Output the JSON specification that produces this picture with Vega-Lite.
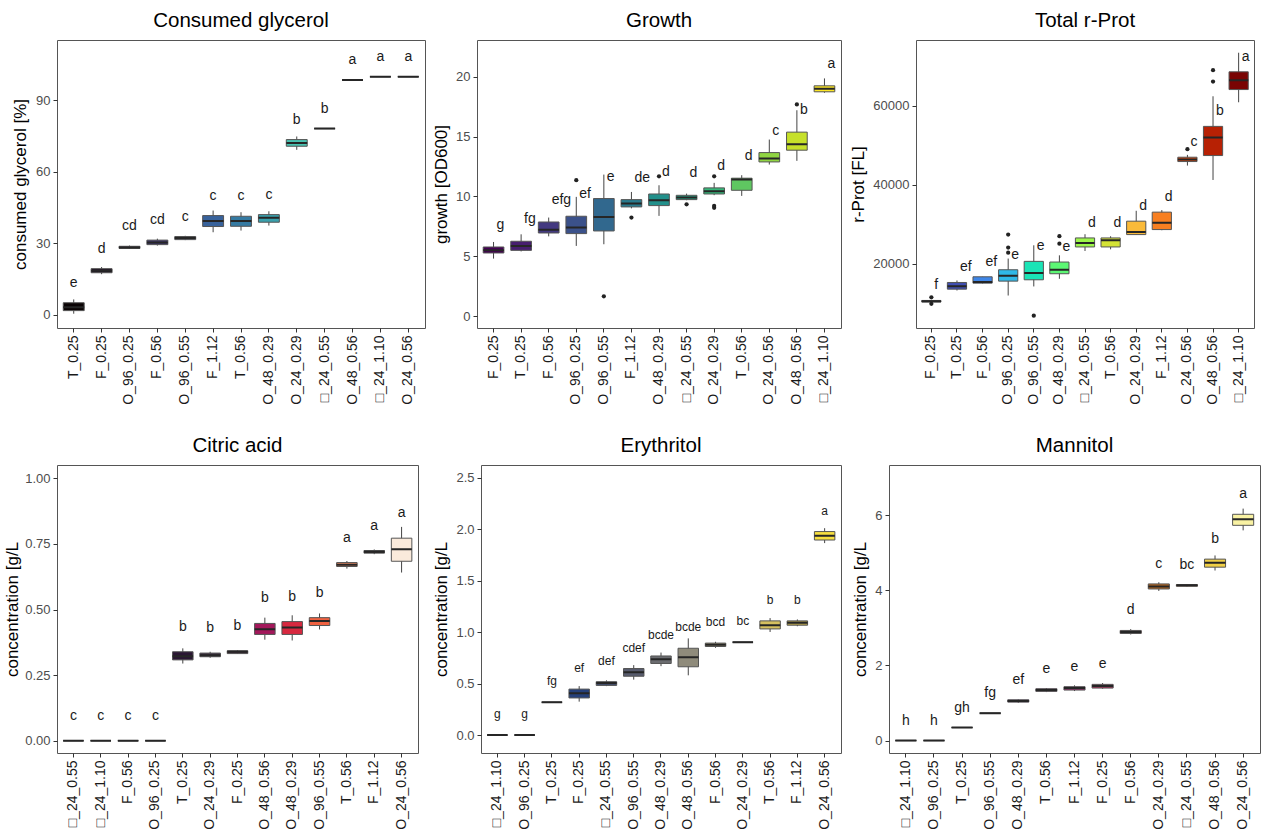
{
"$schema": "https://vega.github.io/schema/vega-lite/v6.json",
"padding": {"left": 3, "top": 10, "right": 0, "bottom": 0},
"config": {
  "font": "Liberation Sans",
  "view": {"stroke": "#555555", "strokeWidth": 1},
  "title": {"fontSize": 20.5, "fontWeight": "normal", "color": "#000000", "offset": 9, "anchor": "middle", "frame": "group", "font": "Liberation Sans"},
  "axis": {"grid": false, "domain": false, "tickColor": "#333333", "tickSize": 4, "labelFont": "Liberation Sans", "labelFontSize": 13, "labelColor": "#4d4d4d", "labelPadding": 3, "titleFont": "Liberation Sans", "titleFontSize": 17, "titleFontWeight": "normal", "titleColor": "#000000", "titlePadding": 5},
  "axisX": {"labelAngle": 270, "labelColor": "#1a1a1a", "title": null, "labelPadding": 3, "labelFontSize": 14},
  "text": {"font": "Liberation Sans"}
},
"datasets": {
  "gly": [
    {"g":"T_0.25","lo":0.4,"q1":1.7,"med":3.1,"q3":5.0,"hi":6.4,"let":"e"},
    {"g":"F_0.25","lo":17.0,"q1":17.6,"med":18.4,"q3":19.3,"hi":20.0,"let":"d"},
    {"g":"O_96_0.25","lo":27.6,"q1":27.8,"med":28.2,"q3":28.7,"hi":29.0,"let":"cd"},
    {"g":"F_0.56","lo":29.0,"q1":29.4,"med":30.3,"q3":31.3,"hi":31.9,"let":"cd"},
    {"g":"O_96_0.55","lo":31.3,"q1":31.5,"med":32.2,"q3":32.8,"hi":33.1,"let":"c"},
    {"g":"F_1.12","lo":34.6,"q1":37.0,"med":39.3,"q3":41.6,"hi":43.7,"let":"c"},
    {"g":"T_0.56","lo":35.3,"q1":37.1,"med":39.3,"q3":41.3,"hi":43.0,"let":"c"},
    {"g":"O_48_0.29","lo":37.4,"q1":38.8,"med":40.7,"q3":42.0,"hi":43.4,"let":"c"},
    {"g":"O_24_0.29","lo":69.2,"q1":70.7,"med":72.1,"q3":73.5,"hi":74.8,"let":"b"},
    {"g":"□_24_0.55","lo":78.1,"q1":78.1,"med":78.1,"q3":78.1,"hi":78.1,"let":"b"},
    {"g":"O_48_0.56","lo":98.5,"q1":98.5,"med":98.5,"q3":98.5,"hi":98.5,"let":"a"},
    {"g":"□_24_1.10","lo":99.9,"q1":99.9,"med":99.9,"q3":99.9,"hi":99.9,"let":"a"},
    {"g":"O_24_0.56","lo":99.9,"q1":99.9,"med":99.9,"q3":99.9,"hi":99.9,"let":"a"}
  ],
  "growth": [
    {"g":"F_0.25","lo":4.8,"q1":5.27,"med":5.49,"q3":5.77,"hi":6.19,"let":"g"},
    {"g":"T_0.25","lo":5.4,"q1":5.49,"med":5.86,"q3":6.25,"hi":6.83,"let":"fg"},
    {"g":"F_0.56","lo":6.66,"q1":6.94,"med":7.22,"q3":7.86,"hi":8.23,"let":"efg"},
    {"g":"O_96_0.25","lo":5.86,"q1":6.89,"med":7.39,"q3":8.34,"hi":9.96,"let":"ef"},
    {"g":"O_96_0.55","lo":6.0,"q1":7.11,"med":8.28,"q3":9.82,"hi":11.82,"let":"e"},
    {"g":"F_1.12","lo":9.0,"q1":9.12,"med":9.4,"q3":9.73,"hi":10.37,"let":"de"},
    {"g":"O_48_0.29","lo":8.37,"q1":9.23,"med":9.68,"q3":10.2,"hi":10.93,"let":"d"},
    {"g":"□_24_0.55","lo":9.68,"q1":9.73,"med":9.9,"q3":10.09,"hi":10.23,"let":"d"},
    {"g":"O_24_0.29","lo":10.1,"q1":10.2,"med":10.43,"q3":10.71,"hi":11.13,"let":"d"},
    {"g":"T_0.56","lo":10.04,"q1":10.51,"med":11.41,"q3":11.52,"hi":11.77,"let":"d"},
    {"g":"O_24_0.56","lo":12.66,"q1":12.88,"med":13.16,"q3":13.66,"hi":14.75,"let":"c"},
    {"g":"O_48_0.56","lo":12.97,"q1":13.86,"med":14.36,"q3":15.37,"hi":17.2,"let":"b"},
    {"g":"□_24_1.10","lo":18.66,"q1":18.74,"med":18.99,"q3":19.24,"hi":19.86,"let":"a"}
  ],
  "growth_out": [
    {"g":"O_96_0.25","v":11.35},
    {"g":"O_96_0.55","v":1.65},
    {"g":"F_1.12","v":8.23},
    {"g":"O_48_0.29","v":11.68},
    {"g":"□_24_0.55","v":9.34},
    {"g":"O_24_0.29","v":11.68},
    {"g":"O_24_0.29","v":9.2},
    {"g":"O_24_0.29","v":9.04},
    {"g":"O_48_0.56","v":17.68}
  ],
  "rprot": [
    {"g":"F_0.25","lo":10300,"q1":10300,"med":10500,"q3":10700,"hi":10700,"let":"f"},
    {"g":"T_0.25","lo":13220,"q1":13560,"med":14320,"q3":15250,"hi":15760,"let":"ef"},
    {"g":"F_0.56","lo":15000,"q1":15080,"med":15340,"q3":16690,"hi":16690,"let":"ef"},
    {"g":"O_96_0.25","lo":11950,"q1":15590,"med":16950,"q3":18470,"hi":21300,"let":"e"},
    {"g":"O_96_0.55","lo":14240,"q1":15930,"med":17630,"q3":20590,"hi":24660,"let":"e"},
    {"g":"O_48_0.29","lo":16180,"q1":17460,"med":18470,"q3":20420,"hi":22120,"let":"e"},
    {"g":"□_24_0.55","lo":23220,"q1":24240,"med":25250,"q3":26520,"hi":27460,"let":"d"},
    {"g":"T_0.56","lo":23640,"q1":24240,"med":25930,"q3":26520,"hi":26950,"let":"d"},
    {"g":"O_24_0.29","lo":27370,"q1":27370,"med":28050,"q3":30760,"hi":33390,"let":"d"},
    {"g":"F_1.12","lo":28470,"q1":28640,"med":30340,"q3":33050,"hi":33560,"let":"d"},
    {"g":"O_24_0.56","lo":44830,"q1":45850,"med":46360,"q3":46950,"hi":47540,"let":"c"},
    {"g":"O_48_0.56","lo":41190,"q1":47370,"med":51950,"q3":54750,"hi":62370,"let":"b"},
    {"g":"□_24_1.10","lo":60850,"q1":64070,"med":66440,"q3":68560,"hi":73390,"let":"a"}
  ],
  "rprot_out": [
    {"g":"F_0.25","v":11500},
    {"g":"F_0.25","v":9850},
    {"g":"O_96_0.25","v":27370},
    {"g":"O_96_0.25","v":24070},
    {"g":"O_96_0.25","v":22800},
    {"g":"O_96_0.55","v":6860},
    {"g":"O_48_0.29","v":26950},
    {"g":"O_48_0.29","v":25080},
    {"g":"O_24_0.56","v":48980},
    {"g":"O_48_0.56","v":68980},
    {"g":"O_48_0.56","v":66100}
  ],
  "citric": [
    {"g":"□_24_0.55","lo":0,"q1":0,"med":0,"q3":0,"hi":0,"let":"c"},
    {"g":"□_24_1.10","lo":0,"q1":0,"med":0,"q3":0,"hi":0,"let":"c"},
    {"g":"F_0.56","lo":0,"q1":0,"med":0,"q3":0,"hi":0,"let":"c"},
    {"g":"O_96_0.25","lo":0,"q1":0,"med":0,"q3":0,"hi":0,"let":"c"},
    {"g":"T_0.25","lo":0.294,"q1":0.308,"med":0.322,"q3":0.339,"hi":0.352,"let":"b"},
    {"g":"O_24_0.29","lo":0.316,"q1":0.32,"med":0.326,"q3":0.334,"hi":0.339,"let":"b"},
    {"g":"F_0.25","lo":0.331,"q1":0.332,"med":0.339,"q3":0.343,"hi":0.345,"let":"b"},
    {"g":"O_48_0.56","lo":0.385,"q1":0.405,"med":0.425,"q3":0.447,"hi":0.469,"let":"b"},
    {"g":"O_48_0.29","lo":0.382,"q1":0.405,"med":0.431,"q3":0.454,"hi":0.478,"let":"b"},
    {"g":"O_96_0.55","lo":0.424,"q1":0.439,"med":0.456,"q3":0.469,"hi":0.485,"let":"b"},
    {"g":"T_0.56","lo":0.656,"q1":0.664,"med":0.671,"q3":0.679,"hi":0.685,"let":"a"},
    {"g":"F_1.12","lo":0.711,"q1":0.715,"med":0.72,"q3":0.725,"hi":0.729,"let":"a"},
    {"g":"O_24_0.56","lo":0.641,"q1":0.684,"med":0.73,"q3":0.772,"hi":0.815,"let":"a"}
  ],
  "ery": [
    {"g":"□_24_1.10","lo":0,"q1":0,"med":0,"q3":0,"hi":0,"let":"g"},
    {"g":"O_96_0.25","lo":0,"q1":0,"med":0,"q3":0,"hi":0,"let":"g"},
    {"g":"T_0.25","lo":0.319,"q1":0.319,"med":0.319,"q3":0.319,"hi":0.319,"let":"fg"},
    {"g":"F_0.25","lo":0.325,"q1":0.361,"med":0.407,"q3":0.447,"hi":0.476,"let":"ef"},
    {"g":"□_24_0.55","lo":0.476,"q1":0.483,"med":0.506,"q3":0.519,"hi":0.532,"let":"def"},
    {"g":"O_96_0.55","lo":0.539,"q1":0.572,"med":0.611,"q3":0.647,"hi":0.68,"let":"cdef"},
    {"g":"O_48_0.29","lo":0.67,"q1":0.696,"med":0.736,"q3":0.769,"hi":0.802,"let":"bcde"},
    {"g":"O_48_0.56","lo":0.581,"q1":0.664,"med":0.756,"q3":0.844,"hi":0.94,"let":"bcde"},
    {"g":"F_0.56","lo":0.848,"q1":0.861,"med":0.877,"q3":0.894,"hi":0.907,"let":"bcd"},
    {"g":"O_24_0.29","lo":0.903,"q1":0.903,"med":0.903,"q3":0.903,"hi":0.903,"let":"bc"},
    {"g":"T_0.56","lo":1.002,"q1":1.032,"med":1.068,"q3":1.11,"hi":1.137,"let":"b"},
    {"g":"F_1.12","lo":1.058,"q1":1.068,"med":1.091,"q3":1.11,"hi":1.124,"let":"b"},
    {"g":"O_24_0.56","lo":1.866,"q1":1.896,"med":1.938,"q3":1.978,"hi":2.011,"let":"a"}
  ],
  "man": [
    {"g":"□_24_1.10","lo":0,"q1":0,"med":0,"q3":0,"hi":0,"let":"h"},
    {"g":"O_96_0.25","lo":0,"q1":0,"med":0,"q3":0,"hi":0,"let":"h"},
    {"g":"T_0.25","lo":0.348,"q1":0.348,"med":0.348,"q3":0.348,"hi":0.348,"let":"gh"},
    {"g":"O_96_0.55","lo":0.731,"q1":0.731,"med":0.731,"q3":0.731,"hi":0.731,"let":"fg"},
    {"g":"O_48_0.29","lo":1.007,"q1":1.025,"med":1.052,"q3":1.087,"hi":1.096,"let":"ef"},
    {"g":"T_0.56","lo":1.292,"q1":1.31,"med":1.346,"q3":1.381,"hi":1.399,"let":"e"},
    {"g":"F_1.12","lo":1.319,"q1":1.346,"med":1.399,"q3":1.435,"hi":1.471,"let":"e"},
    {"g":"F_0.25","lo":1.381,"q1":1.399,"med":1.453,"q3":1.497,"hi":1.533,"let":"e"},
    {"g":"F_0.56","lo":2.825,"q1":2.852,"med":2.888,"q3":2.932,"hi":2.968,"let":"d"},
    {"g":"O_24_0.29","lo":3.984,"q1":4.037,"med":4.1,"q3":4.171,"hi":4.216,"let":"c"},
    {"g":"□_24_0.55","lo":4.1,"q1":4.109,"med":4.135,"q3":4.153,"hi":4.162,"let":"bc"},
    {"g":"O_48_0.56","lo":4.528,"q1":4.617,"med":4.733,"q3":4.831,"hi":4.929,"let":"b"},
    {"g":"O_24_0.56","lo":5.597,"q1":5.731,"med":5.891,"q3":6.025,"hi":6.176,"let":"a"}
  ]
},
"columns": 1,
"align": "none",
"spacing": 30,
"resolve": {"scale": {"fill": "independent"}},
"concat": [
 {"spacing": 6, "resolve": {"scale": {"fill": "independent"}}, "hconcat": [
  {"width": 368, "height": 288, "title": {"text": "Consumed glycerol"},
   "data": {"name": "gly"},
   "encoding": {"x": {"field": "g", "type": "nominal", "sort": null, "scale": {"type": "band", "domain": ["T_0.25","F_0.25","O_96_0.25","F_0.56","O_96_0.55","F_1.12","T_0.56","O_48_0.29","O_24_0.29","□_24_0.55","O_48_0.56","□_24_1.10","O_24_0.56"], "paddingInner": 0.25, "paddingOuter": 0.225}, "axis": {"title": null}}},
   "layer": [
    {"mark": {"type": "rule", "color": "#444444", "strokeWidth": 1}, "encoding": {"y": {"field": "lo", "type": "quantitative", "scale": {"domain": [-5.6, 115.3], "nice": false, "zero": false}, "axis": {"title": "consumed glycerol [%]", "values": [0, 30, 60, 90], "titlePadding": 6}}, "y2": {"field": "hi"}}},
    {"mark": {"type": "bar", "stroke": "#555555", "strokeWidth": 1}, "encoding": {"y": {"field": "q1", "type": "quantitative"}, "y2": {"field": "q3"}, "fill": {"field": "g", "type": "nominal", "legend": null, "scale": {"domain": ["T_0.25","F_0.25","O_96_0.25","F_0.56","O_96_0.55","F_1.12","T_0.56","O_48_0.29","O_24_0.29","□_24_0.55","O_48_0.56","□_24_1.10","O_24_0.56"], "range": ["#0b0405","#1f1325","#312346","#3c356b","#3e4a87","#38629b","#357aa2","#3aa0ac","#49c1b0","#52bfae","#7ed3b0","#ade5c7","#def5e5"]}}}},
    {"mark": {"type": "bar", "filled": false, "color": "#262626", "strokeWidth": 2}, "encoding": {"y": {"field": "med", "type": "quantitative"}, "y2": {"field": "med"}}},
    {"mark": {"type": "text", "fontSize": 14, "dy": -16, "baseline": "alphabetic", "color": "#1a1a1a"}, "encoding": {"y": {"field": "q3", "type": "quantitative"}, "text": {"field": "let"}}}
   ]},
  {"spacing": 7, "resolve": {"scale": {"fill": "independent"}}, "hconcat": [
   {"width": 364, "height": 288, "title": {"text": "Growth"},
    "data": {"name": "growth"},
    "encoding": {"x": {"field": "g", "type": "nominal", "sort": null, "scale": {"type": "band", "domain": ["F_0.25","T_0.25","F_0.56","O_96_0.25","O_96_0.55","F_1.12","O_48_0.29","□_24_0.55","O_24_0.29","T_0.56","O_24_0.56","O_48_0.56","□_24_1.10"], "paddingInner": 0.25, "paddingOuter": 0.225}, "axis": {"title": null}}},
    "layer": [
     {"mark": {"type": "rule", "color": "#444444", "strokeWidth": 1}, "encoding": {"y": {"field": "lo", "type": "quantitative", "scale": {"domain": [-1.0, 23.07], "nice": false, "zero": false}, "axis": {"title": "growth [OD600]", "values": [0, 5, 10, 15, 20]}}, "y2": {"field": "hi"}}},
     {"mark": {"type": "bar", "stroke": "#555555", "strokeWidth": 1}, "encoding": {"y": {"field": "q1", "type": "quantitative"}, "y2": {"field": "q3"}, "fill": {"field": "g", "type": "nominal", "legend": null, "scale": {"domain": ["F_0.25","T_0.25","F_0.56","O_96_0.25","O_96_0.55","F_1.12","O_48_0.29","□_24_0.55","O_24_0.29","T_0.56","O_24_0.56","O_48_0.56","□_24_1.10"], "range": ["#440154","#471e6f","#433980","#3b518a","#31688e","#297b8e","#22908b","#24a485","#35b779","#5fc761","#90d542","#c6e02a","#fde725"]}}}},
     {"mark": {"type": "bar", "filled": false, "color": "#262626", "strokeWidth": 2}, "encoding": {"y": {"field": "med", "type": "quantitative"}, "y2": {"field": "med"}}},
     {"data": {"name": "growth_out"}, "mark": {"type": "point", "filled": true, "size": 18, "color": "#222222", "opacity": 1}, "encoding": {"y": {"field": "v", "type": "quantitative"}}},
     {"mark": {"type": "text", "fontSize": 14, "dy": -18, "dx": 3, "align": "left", "baseline": "alphabetic", "color": "#1a1a1a"}, "encoding": {"y": {"field": "q3", "type": "quantitative"}, "text": {"field": "let"}}}
    ]},
   {"width": 338, "height": 288, "title": {"text": "Total r-Prot"},
    "data": {"name": "rprot"},
    "encoding": {"x": {"field": "g", "type": "nominal", "sort": null, "scale": {"type": "band", "domain": ["F_0.25","T_0.25","F_0.56","O_96_0.25","O_96_0.55","O_48_0.29","□_24_0.55","T_0.56","O_24_0.29","F_1.12","O_24_0.56","O_48_0.56","□_24_1.10"], "paddingInner": 0.25, "paddingOuter": 0.225}, "axis": {"title": null}}},
    "layer": [
     {"mark": {"type": "rule", "color": "#444444", "strokeWidth": 1}, "encoding": {"y": {"field": "lo", "type": "quantitative", "scale": {"domain": [3730, 76610], "nice": false, "zero": false}, "axis": {"title": "r-Prot [FL]", "values": [20000, 40000, 60000], "format": "d"}}, "y2": {"field": "hi"}}},
     {"mark": {"type": "bar", "stroke": "#555555", "strokeWidth": 1}, "encoding": {"y": {"field": "q1", "type": "quantitative"}, "y2": {"field": "q3"}, "fill": {"field": "g", "type": "nominal", "legend": null, "scale": {"domain": ["F_0.25","T_0.25","F_0.56","O_96_0.25","O_96_0.55","O_48_0.29","□_24_0.55","T_0.56","O_24_0.29","F_1.12","O_24_0.56","O_48_0.56","□_24_1.10"], "range": ["#30123b","#404eb0","#3e86e8","#2fb8e8","#1ae4b6","#5cf774","#9cf649","#d4e235","#faba39","#f77f21","#e14b0f","#b72104","#7a0403"]}}}},
     {"mark": {"type": "bar", "filled": false, "color": "#262626", "strokeWidth": 2}, "encoding": {"y": {"field": "med", "type": "quantitative"}, "y2": {"field": "med"}}},
     {"data": {"name": "rprot_out"}, "mark": {"type": "point", "filled": true, "size": 18, "color": "#222222", "opacity": 1}, "encoding": {"y": {"field": "v", "type": "quantitative"}}},
     {"mark": {"type": "text", "fontSize": 14, "dy": -11, "dx": 3, "align": "left", "baseline": "alphabetic", "color": "#1a1a1a"}, "encoding": {"y": {"field": "q3", "type": "quantitative"}, "text": {"field": "let"}}}
    ]}
  ]}
 ]},
 {"spacing": 13, "resolve": {"scale": {"fill": "independent"}}, "hconcat": [
  {"width": 361, "height": 288, "title": {"text": "Citric acid"},
   "data": {"name": "citric"},
   "encoding": {"x": {"field": "g", "type": "nominal", "sort": null, "scale": {"type": "band", "domain": ["□_24_0.55","□_24_1.10","F_0.56","O_96_0.25","T_0.25","O_24_0.29","F_0.25","O_48_0.56","O_48_0.29","O_96_0.55","T_0.56","F_1.12","O_24_0.56"], "paddingInner": 0.25, "paddingOuter": 0.225}, "axis": {"title": null}}},
   "layer": [
    {"mark": {"type": "rule", "color": "#444444", "strokeWidth": 1}, "encoding": {"y": {"field": "lo", "type": "quantitative", "scale": {"domain": [-0.047, 1.051], "nice": false, "zero": false}, "axis": {"title": "concentration [g/L", "values": [0, 0.25, 0.5, 0.75, 1], "format": ".2f", "titlePadding": 3}}, "y2": {"field": "hi"}}},
    {"mark": {"type": "bar", "stroke": "#555555", "strokeWidth": 1}, "encoding": {"y": {"field": "q1", "type": "quantitative"}, "y2": {"field": "q3"}, "fill": {"field": "g", "type": "nominal", "legend": null, "scale": {"domain": ["□_24_0.55","□_24_1.10","F_0.56","O_96_0.25","T_0.25","O_24_0.29","F_0.25","O_48_0.56","O_48_0.29","O_96_0.55","T_0.56","F_1.12","O_24_0.56"], "range": ["#03051a","#221331","#451c47","#6a1f56","#2a1633","#3d2b40","#4a2a3f","#a3185b","#d7283f","#ef6140","#e58660","#3a2a2a","#faeadb"]}}}},
    {"mark": {"type": "bar", "filled": false, "color": "#262626", "strokeWidth": 2}, "encoding": {"y": {"field": "med", "type": "quantitative"}, "y2": {"field": "med"}}},
    {"mark": {"type": "text", "fontSize": 14, "dy": -21, "baseline": "alphabetic", "color": "#1a1a1a"}, "encoding": {"y": {"field": "q3", "type": "quantitative"}, "text": {"field": "let"}}}
   ]},
  {"spacing": 9, "resolve": {"scale": {"fill": "independent"}}, "hconcat": [
   {"width": 360, "height": 288, "title": {"text": "Erythritol"},
    "data": {"name": "ery"},
    "encoding": {"x": {"field": "g", "type": "nominal", "sort": null, "scale": {"type": "band", "domain": ["□_24_1.10","O_96_0.25","T_0.25","F_0.25","□_24_0.55","O_96_0.55","O_48_0.29","O_48_0.56","F_0.56","O_24_0.29","T_0.56","F_1.12","O_24_0.56"], "paddingInner": 0.25, "paddingOuter": 0.225}, "axis": {"title": null}}},
    "layer": [
     {"mark": {"type": "rule", "color": "#444444", "strokeWidth": 1}, "encoding": {"y": {"field": "lo", "type": "quantitative", "scale": {"domain": [-0.174, 2.625], "nice": false, "zero": false}, "axis": {"title": "concentration [g/L", "values": [0, 0.5, 1, 1.5, 2, 2.5], "format": ".1f"}}, "y2": {"field": "hi"}}},
     {"mark": {"type": "bar", "stroke": "#555555", "strokeWidth": 1}, "encoding": {"y": {"field": "q1", "type": "quantitative"}, "y2": {"field": "q3"}, "fill": {"field": "g", "type": "nominal", "legend": null, "scale": {"domain": ["□_24_1.10","O_96_0.25","T_0.25","F_0.25","□_24_0.55","O_96_0.55","O_48_0.29","O_48_0.56","F_0.56","O_24_0.29","T_0.56","F_1.12","O_24_0.56"], "range": ["#00204d","#002e67","#3a4a6b","#26407a","#414d6c","#585c6e","#6b6c70","#8f8b7b","#a69d75","#bcaf6e","#d5bf5f","#b9a44a","#f7df3f"]}}}},
     {"mark": {"type": "bar", "filled": false, "color": "#262626", "strokeWidth": 2}, "encoding": {"y": {"field": "med", "type": "quantitative"}, "y2": {"field": "med"}}},
     {"mark": {"type": "text", "fontSize": 12, "dy": -17, "baseline": "alphabetic", "color": "#1a1a1a"}, "encoding": {"y": {"field": "q3", "type": "quantitative"}, "text": {"field": "let"}}}
    ]},
   {"width": 371, "height": 288, "title": {"text": "Mannitol"},
    "data": {"name": "man"},
    "encoding": {"x": {"field": "g", "type": "nominal", "sort": null, "scale": {"type": "band", "domain": ["□_24_1.10","O_96_0.25","T_0.25","O_96_0.55","O_48_0.29","T_0.56","F_1.12","F_0.25","F_0.56","O_24_0.29","□_24_0.55","O_48_0.56","O_24_0.56"], "paddingInner": 0.25, "paddingOuter": 0.225}, "axis": {"title": null}}},
    "layer": [
     {"mark": {"type": "rule", "color": "#444444", "strokeWidth": 1}, "encoding": {"y": {"field": "lo", "type": "quantitative", "scale": {"domain": [-0.33, 7.337], "nice": false, "zero": false}, "axis": {"title": "concentration [g/L", "values": [0, 2, 4, 6]}}, "y2": {"field": "hi"}}},
     {"mark": {"type": "bar", "stroke": "#555555", "strokeWidth": 1}, "encoding": {"y": {"field": "q1", "type": "quantitative"}, "y2": {"field": "q3"}, "fill": {"field": "g", "type": "nominal", "legend": null, "scale": {"domain": ["□_24_1.10","O_96_0.25","T_0.25","O_96_0.55","O_48_0.29","T_0.56","F_1.12","F_0.25","F_0.56","O_24_0.29","□_24_0.55","O_48_0.56","O_24_0.56"], "range": ["#000004","#0c0826","#240c4f","#420a68","#5d126e","#781c6d","#932667","#ad305c","#c73e4c","#b8661c","#ed6925","#f0cf46","#f9f2a3"]}}}},
     {"mark": {"type": "bar", "filled": false, "color": "#262626", "strokeWidth": 2}, "encoding": {"y": {"field": "med", "type": "quantitative"}, "y2": {"field": "med"}}},
     {"mark": {"type": "text", "fontSize": 14, "dy": -16, "baseline": "alphabetic", "color": "#1a1a1a"}, "encoding": {"y": {"field": "q3", "type": "quantitative"}, "text": {"field": "let"}}}
    ]}
  ]}
 ]}
]
}
